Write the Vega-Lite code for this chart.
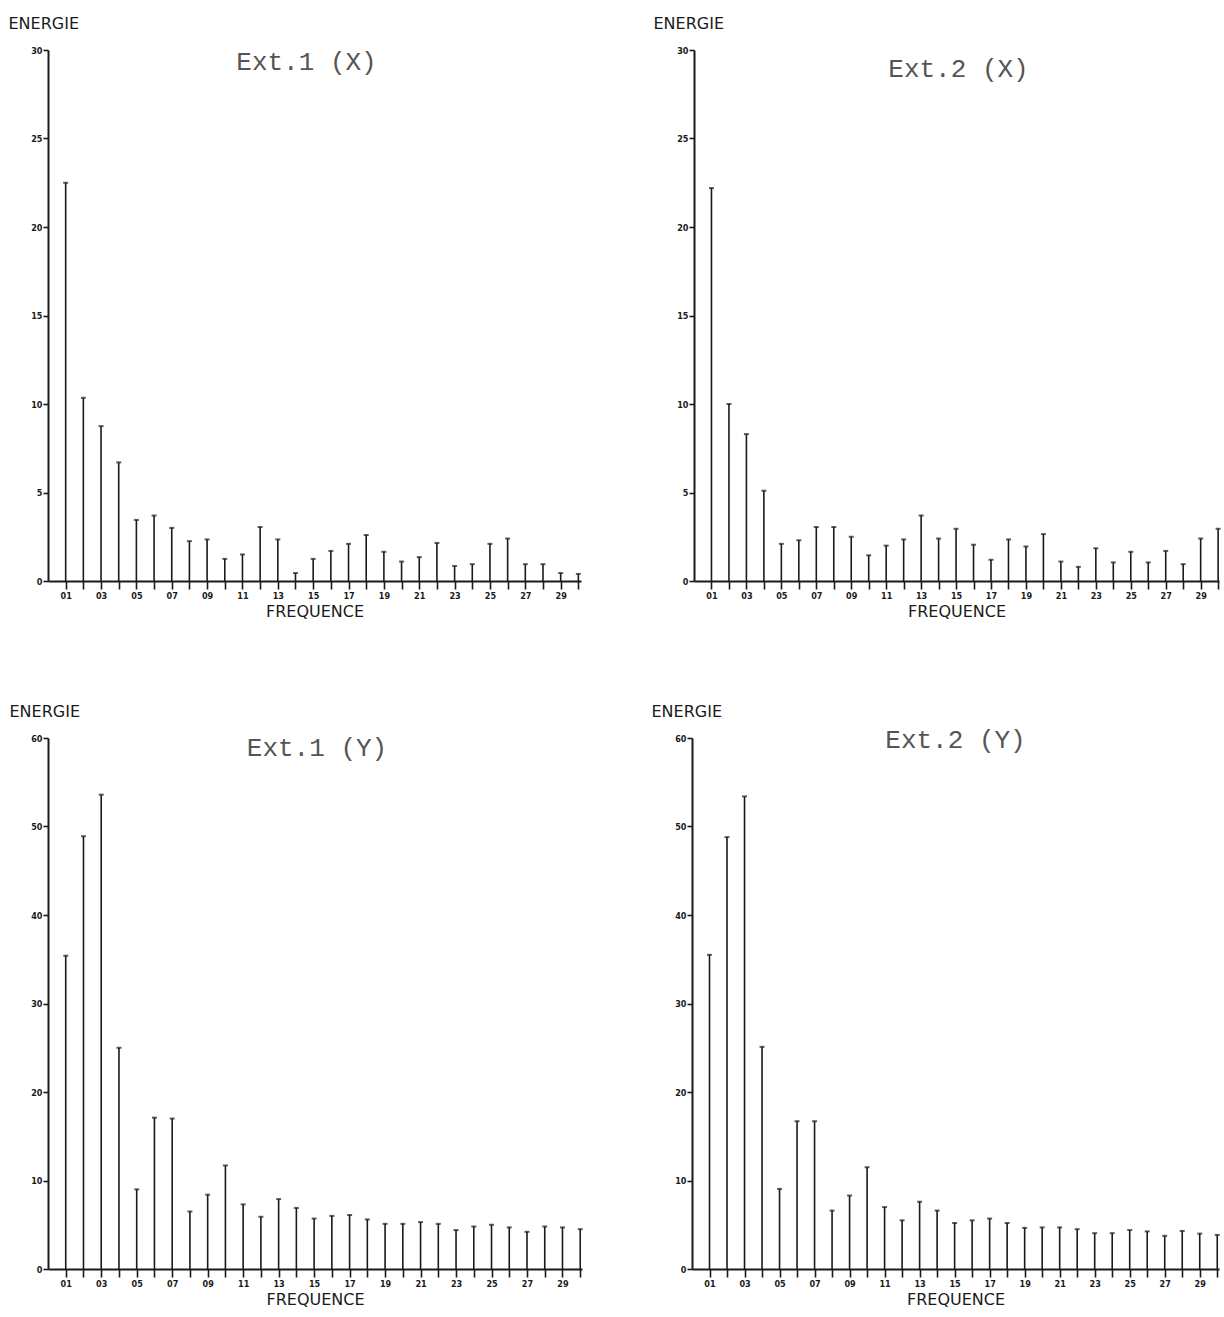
{
  "$schema": "https://vega.github.io/schema/vega-lite/v6.json",
  "padding": {"left": 8, "top": 15, "right": 5, "bottom": 5},
  "background": "white",
  "spacing": 84,
  "datasets": {
    "e1x": [
      {"f":1,"e":22.5},{"f":2,"e":10.35},{"f":3,"e":8.75},{"f":4,"e":6.7},{"f":5,"e":3.45},{"f":6,"e":3.7},{"f":7,"e":3.0},{"f":8,"e":2.25},{"f":9,"e":2.35},{"f":10,"e":1.25},
      {"f":11,"e":1.5},{"f":12,"e":3.05},{"f":13,"e":2.35},{"f":14,"e":0.45},{"f":15,"e":1.25},{"f":16,"e":1.7},{"f":17,"e":2.1},{"f":18,"e":2.6},{"f":19,"e":1.65},{"f":20,"e":1.1},
      {"f":21,"e":1.35},{"f":22,"e":2.15},{"f":23,"e":0.85},{"f":24,"e":0.95},{"f":25,"e":2.1},{"f":26,"e":2.4},{"f":27,"e":0.95},{"f":28,"e":0.95},{"f":29,"e":0.45},{"f":30,"e":0.4}
    ],
    "e2x": [
      {"f":1,"e":22.2},{"f":2,"e":10.0},{"f":3,"e":8.3},{"f":4,"e":5.1},{"f":5,"e":2.1},{"f":6,"e":2.3},{"f":7,"e":3.05},{"f":8,"e":3.05},{"f":9,"e":2.5},{"f":10,"e":1.45},
      {"f":11,"e":2.0},{"f":12,"e":2.35},{"f":13,"e":3.7},{"f":14,"e":2.4},{"f":15,"e":2.95},{"f":16,"e":2.05},{"f":17,"e":1.2},{"f":18,"e":2.35},{"f":19,"e":1.95},{"f":20,"e":2.65},
      {"f":21,"e":1.1},{"f":22,"e":0.8},{"f":23,"e":1.85},{"f":24,"e":1.05},{"f":25,"e":1.65},{"f":26,"e":1.05},{"f":27,"e":1.7},{"f":28,"e":0.95},{"f":29,"e":2.4},{"f":30,"e":2.95}
    ],
    "e1y": [
      {"f":1,"e":35.4},{"f":2,"e":48.9},{"f":3,"e":53.6},{"f":4,"e":25.0},{"f":5,"e":9.0},{"f":6,"e":17.1},{"f":7,"e":17.0},{"f":8,"e":6.5},{"f":9,"e":8.4},{"f":10,"e":11.7},
      {"f":11,"e":7.3},{"f":12,"e":5.9},{"f":13,"e":7.9},{"f":14,"e":6.9},{"f":15,"e":5.7},{"f":16,"e":6.0},{"f":17,"e":6.1},{"f":18,"e":5.6},{"f":19,"e":5.1},{"f":20,"e":5.1},
      {"f":21,"e":5.3},{"f":22,"e":5.1},{"f":23,"e":4.4},{"f":24,"e":4.8},{"f":25,"e":5.0},{"f":26,"e":4.7},{"f":27,"e":4.2},{"f":28,"e":4.8},{"f":29,"e":4.7},{"f":30,"e":4.5}
    ],
    "e2y": [
      {"f":1,"e":35.5},{"f":2,"e":48.8},{"f":3,"e":53.4},{"f":4,"e":25.1},{"f":5,"e":9.05},{"f":6,"e":16.7},{"f":7,"e":16.7},{"f":8,"e":6.6},{"f":9,"e":8.3},{"f":10,"e":11.5},
      {"f":11,"e":7.0},{"f":12,"e":5.5},{"f":13,"e":7.6},{"f":14,"e":6.6},{"f":15,"e":5.2},{"f":16,"e":5.5},{"f":17,"e":5.7},{"f":18,"e":5.2},{"f":19,"e":4.65},{"f":20,"e":4.7},
      {"f":21,"e":4.7},{"f":22,"e":4.5},{"f":23,"e":4.05},{"f":24,"e":4.05},{"f":25,"e":4.4},{"f":26,"e":4.25},{"f":27,"e":3.75},{"f":28,"e":4.3},{"f":29,"e":4.0},{"f":30,"e":3.85}
    ]
  },
  "config": {
    "view": {"stroke": null},
    "axis": {
      "domainColor": "#1a1a1a", "domainWidth": 2, "tickColor": "#1a1a1a", "tickWidth": 1.6,
      "labelColor": "#1a1a1a", "labelFont": "DejaVu Sans Condensed", "labelFontSize": 9, "labelFontWeight": "bold",
      "titleColor": "#1a1a1a", "titleFont": "DejaVu Sans", "titleFontWeight": "normal", "titleFontSize": 16, "grid": false
    },
    "title": {"font": "Liberation Mono", "fontSize": 26, "fontWeight": "normal", "color": "#555", "anchor": "middle", "frame": "group"}
  },
  "vconcat": [
    {
      "spacing": 72,
      "hconcat": [
        {
          "width": 533, "height": 531,
          "data": {"name": "e1x"},
          "title": {"text": "Ext.1  (X)", "offset": -20, "dx": -8, "dy": 40},
          "encoding": {
            "x": {"field": "f", "type": "quantitative", "scale": {"domain": [0, 30.15], "nice": false},
              "axis": {"values": [1,2,3,4,5,6,7,8,9,10,11,12,13,14,15,16,17,18,19,20,21,22,23,24,25,26,27,28,29,30],
                "labelExpr": "datum.value % 2 == 1 ? (datum.value < 10 ? '0' + datum.value : '' + datum.value) : ''",
                "tickSize": 8, "labelPadding": 2, "labelFlush": false, "title": "FREQUENCE", "titlePadding": 3}}
          },
          "layer": [
            {"mark": {"type": "rule", "strokeWidth": 1.6, "color": "#1a1a1a"},
             "encoding": {"y": {"field": "e", "type": "quantitative", "scale": {"domain": [0, 30], "nice": false},
                "axis": {"values": [0,5,10,15,20,25,30], "tickSize": 5, "labelPadding": 1, "title": "ENERGIE", "titleAngle": 0, "titleAlign": "left", "titleBaseline": "alphabetic", "titleX": -40, "titleY": -22}},
                "y2": {"datum": 0}}},
            {"mark": {"type": "tick", "orient": "horizontal", "size": 5, "thickness": 2, "color": "#1a1a1a"},
             "encoding": {"y": {"field": "e", "type": "quantitative"}}}
          ]
        },
        {
          "width": 525, "height": 531,
          "data": {"name": "e2x"},
          "title": {"text": "Ext.2  (X)", "offset": -27, "dx": 2, "dy": 40},
          "encoding": {
            "x": {"field": "f", "type": "quantitative", "scale": {"domain": [0, 30.05], "nice": false},
              "axis": {"values": [1,2,3,4,5,6,7,8,9,10,11,12,13,14,15,16,17,18,19,20,21,22,23,24,25,26,27,28,29,30],
                "labelExpr": "datum.value % 2 == 1 ? (datum.value < 10 ? '0' + datum.value : '' + datum.value) : ''",
                "tickSize": 8, "labelPadding": 2, "labelFlush": false, "title": "FREQUENCE", "titlePadding": 3}}
          },
          "layer": [
            {"mark": {"type": "rule", "strokeWidth": 1.6, "color": "#1a1a1a"},
             "encoding": {"y": {"field": "e", "type": "quantitative", "scale": {"domain": [0, 30], "nice": false},
                "axis": {"values": [0,5,10,15,20,25,30], "tickSize": 5, "labelPadding": 1, "title": "ENERGIE", "titleAngle": 0, "titleAlign": "left", "titleBaseline": "alphabetic", "titleX": -41, "titleY": -22}},
                "y2": {"datum": 0}}},
            {"mark": {"type": "tick", "orient": "horizontal", "size": 5, "thickness": 2, "color": "#1a1a1a"},
             "encoding": {"y": {"field": "e", "type": "quantitative"}}}
          ]
        }
      ]
    },
    {
      "spacing": 68,
      "hconcat": [
        {
          "width": 534, "height": 531,
          "data": {"name": "e1y"},
          "title": {"text": "Ext.1  (Y)", "offset": -18, "dx": 2, "dy": 40},
          "encoding": {
            "x": {"field": "f", "type": "quantitative", "scale": {"domain": [0, 30.1], "nice": false},
              "axis": {"values": [1,2,3,4,5,6,7,8,9,10,11,12,13,14,15,16,17,18,19,20,21,22,23,24,25,26,27,28,29,30],
                "labelExpr": "datum.value % 2 == 1 ? (datum.value < 10 ? '0' + datum.value : '' + datum.value) : ''",
                "tickSize": 8, "labelPadding": 2, "labelFlush": false, "title": "FREQUENCE", "titlePadding": 3}}
          },
          "layer": [
            {"mark": {"type": "rule", "strokeWidth": 1.6, "color": "#1a1a1a"},
             "encoding": {"y": {"field": "e", "type": "quantitative", "scale": {"domain": [0, 60], "nice": false},
                "axis": {"values": [0,10,20,30,40,50,60], "tickSize": 5, "labelPadding": 1, "title": "ENERGIE", "titleAngle": 0, "titleAlign": "left", "titleBaseline": "alphabetic", "titleX": -39, "titleY": -22}},
                "y2": {"datum": 0}}},
            {"mark": {"type": "tick", "orient": "horizontal", "size": 5, "thickness": 2, "color": "#1a1a1a"},
             "encoding": {"y": {"field": "e", "type": "quantitative"}}}
          ]
        },
        {
          "width": 527, "height": 531,
          "data": {"name": "e2y"},
          "title": {"text": "Ext.2  (Y)", "offset": -10, "dx": 0, "dy": 40},
          "encoding": {
            "x": {"field": "f", "type": "quantitative", "scale": {"domain": [0, 30.1], "nice": false},
              "axis": {"values": [1,2,3,4,5,6,7,8,9,10,11,12,13,14,15,16,17,18,19,20,21,22,23,24,25,26,27,28,29,30],
                "labelExpr": "datum.value % 2 == 1 ? (datum.value < 10 ? '0' + datum.value : '' + datum.value) : ''",
                "tickSize": 8, "labelPadding": 2, "labelFlush": false, "title": "FREQUENCE", "titlePadding": 3}}
          },
          "layer": [
            {"mark": {"type": "rule", "strokeWidth": 1.6, "color": "#1a1a1a"},
             "encoding": {"y": {"field": "e", "type": "quantitative", "scale": {"domain": [0, 60], "nice": false},
                "axis": {"values": [0,10,20,30,40,50,60], "tickSize": 5, "labelPadding": 1, "title": "ENERGIE", "titleAngle": 0, "titleAlign": "left", "titleBaseline": "alphabetic", "titleX": -41, "titleY": -22}},
                "y2": {"datum": 0}}},
            {"mark": {"type": "tick", "orient": "horizontal", "size": 5, "thickness": 2, "color": "#1a1a1a"},
             "encoding": {"y": {"field": "e", "type": "quantitative"}}}
          ]
        }
      ]
    }
  ]
}
